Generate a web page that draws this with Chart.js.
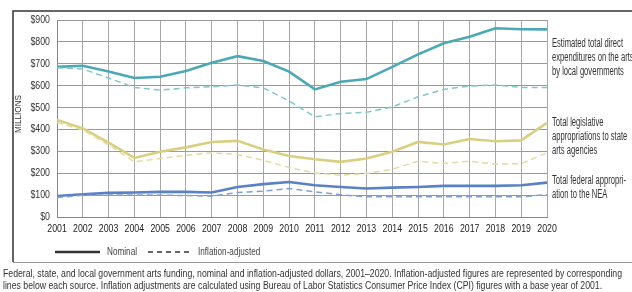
<!DOCTYPE html>
<html>
<head>
<meta charset="utf-8">
<script src="https://cdn.jsdelivr.net/npm/chart.js"></script>
<style>
    html, body { margin: 0; padding: 0; background: #fff; }
    #wrap { position: relative; width: 632px; height: 292px; }
</style>
</head>
<body>
<div id="wrap"><canvas id="artsChart" width="632" height="292"></canvas></div>
<script>
// 資料
const years = ['2001','2002','2003','2004','2005','2006','2007','2008','2009','2010',
               '2011','2012','2013','2014','2015','2016','2017','2018','2019','2020'];

const localNominal  = [686, 691, 665, 635, 641, 667, 705, 735, 713, 664, 583, 618, 630, 686, 743, 794, 824, 862, 858, 857];
const localAdjusted = [682, 676, 635, 592, 580, 590, 595, 603, 590, 530, 458, 473, 478, 503, 549, 583, 598, 603, 592, 592];

const stateNominal  = [443, 405, 340, 270, 298, 318, 343, 348, 308, 279, 264, 252, 267, 298, 343, 331, 356, 346, 350, 430];
const stateAdjusted = [432, 397, 330, 252, 267, 282, 293, 286, 259, 226, 201, 191, 199, 218, 255, 244, 255, 241, 244, 293];

const neaNominal    = [96, 104, 110, 112, 115, 115, 112, 137, 150, 160, 145, 137, 130, 134, 137, 142, 142, 142, 145, 157];
const neaAdjusted   = [89, 99, 100, 100, 100, 98, 95, 112, 118, 130, 115, 102, 92, 92, 92, 92, 92, 92, 92, 102];

const yTicks = [0, 100, 200, 300, 400, 500, 600, 700, 800, 900];

const FONT = '"Liberation Sans", "DejaVu Sans", sans-serif';

// 側邊說明文字
const sideNotes = [
    { lines: ['Estimated total direct', 'expenditures on the arts', 'by local governments'], y: 44 },
    { lines: ['Total legislative', 'appropriations to state', 'arts agencies'], y: 123 },
    { lines: ['Total federal appropri-', 'ation to the NEA'], y: 181 }
];

const captionLines = [
    'Federal, state, and local government arts funding, nominal and inflation-adjusted dollars, 2001\u20132020. Inflation-adjusted figures are represented by corresponding',
    'lines below each source. Inflation adjustments are calculated using Bureau of Labor Statistics Consumer Price Index (CPI) figures with a base year of 2001.'
];

function lineSet(data, color, dashed) {
    return {
        data: data,
        borderColor: color,
        borderWidth: dashed ? 1.5 : 2.6,
        borderDash: dashed ? [6, 4] : [],
        pointRadius: 0,
        tension: 0,
        fill: false
    };
}

// 壓窄文字
function narrowText(ctx, txt, x, y, sx) {
    ctx.save();
    ctx.translate(x, y);
    ctx.scale(sx, 1);
    ctx.fillText(txt, 0, 0);
    ctx.restore();
}

// 外框、刻度文字、圖例、說明文字
const decorPlugin = {
    id: 'decor',
    afterDraw(chart) {
        const ctx = chart.ctx;
        const area = chart.chartArea;
        const xs = chart.scales.x;
        const ys = chart.scales.y;
        ctx.save();

        // 外框
        ctx.strokeStyle = '#333';
        ctx.lineWidth = 1.5;
        ctx.beginPath();
        ctx.moveTo(13, 262);
        ctx.lineTo(13, 11);
        ctx.lineTo(632, 11);
        ctx.stroke();

        ctx.strokeStyle = '#999';
        ctx.lineWidth = 1;
        ctx.beginPath();
        ctx.moveTo(13, 262.5);
        ctx.lineTo(632, 262.5);
        ctx.stroke();

        // X 軸刻度
        ctx.fillStyle = '#222';
        ctx.font = '11.5px ' + FONT;
        ctx.textBaseline = 'middle';
        ctx.textAlign = 'left';
        xs.ticks.forEach((t, i) => {
            const label = xs.getLabelForValue(t.value);
            const w = ctx.measureText(label).width;
            const sx = 19.5 / w;
            narrowText(ctx, label, xs.getPixelForTick(i) - 9.75, area.bottom + 11.5, sx);
        });

        // Y 軸刻度
        ctx.fillStyle = '#333';
        ctx.font = '11px ' + FONT;
        ys.ticks.forEach(t => {
            const label = '$' + t.value;
            const w = ctx.measureText(label).width;
            const sx = 0.8;
            narrowText(ctx, label, 50 - w * sx, ys.getPixelForValue(t.value), sx);
        });

        // MILLIONS
        ctx.fillStyle = '#333';
        ctx.font = '9.5px ' + FONT;
        ctx.textAlign = 'center';
        ctx.translate(18, 114);
        ctx.rotate(-Math.PI / 2);
        narrowText(ctx, 'MILLIONS', 0, 0, 38 / ctx.measureText('MILLIONS').width);
        ctx.setTransform(1, 0, 0, 1, 0, 0);

        // 側邊說明
        ctx.font = '12px ' + FONT;
        ctx.textAlign = 'left';
        ctx.fillStyle = '#333';
        const noteScale = 71 / ctx.measureText('Estimated total direct').width;
        sideNotes.forEach(note => {
            note.lines.forEach((txt, i) => {
                narrowText(ctx, txt, area.right + 5, note.y + i * 14, noteScale);
            });
        });

        // 圖例
        ctx.strokeStyle = '#333';
        ctx.lineWidth = 2.6;
        ctx.beginPath();
        ctx.moveTo(55, 252);
        ctx.lineTo(100, 252);
        ctx.stroke();
        ctx.lineWidth = 1.3;
        ctx.setLineDash([5, 4]);
        ctx.beginPath();
        ctx.moveTo(148, 252);
        ctx.lineTo(193, 252);
        ctx.stroke();
        ctx.setLineDash([]);
        ctx.font = '10.5px ' + FONT;
        ctx.fillStyle = '#444';
        const legScale = 30 / ctx.measureText('Nominal').width;
        narrowText(ctx, 'Nominal', 107, 252, legScale);
        narrowText(ctx, 'Inflation-adjusted', 198, 252, legScale);

        // 圖說
        ctx.font = '10px ' + FONT;
        ctx.fillStyle = '#333';
        const capScale = 619 / ctx.measureText(captionLines[0]).width;
        captionLines.forEach((txt, i) => {
            narrowText(ctx, txt, 3, 274 + i * 12, capScale);
        });

        ctx.restore();
    }
};

const ctx = document.getElementById('artsChart').getContext('2d');
const artsChart = new Chart(ctx, {
    type: 'line',
    data: {
        labels: years,
        datasets: [
            lineSet(localAdjusted, '#7fc6cf', true),
            lineSet(stateAdjusted, '#e2dc9e', true),
            lineSet(neaAdjusted, '#7e9fd8', true),
            lineSet(localNominal, '#4aa9b4', false),
            lineSet(stateNominal, '#d9cf80', false),
            lineSet(neaNominal, '#5a80c6', false)
        ]
    },
    options: {
        responsive: false,
        animation: false,
        layout: {
            padding: { left: 0, top: 20, right: 85, bottom: 55 }
        },
        plugins: {
            legend: { display: false },
            tooltip: { enabled: false }
        },
        scales: {
            x: {
                grid: { color: '#a8a8a8', lineWidth: 1, drawTicks: false },
                border: { color: '#888' },
                // 刻度文字由外掛以窄體繪製
                ticks: { display: false, autoSkip: false, maxRotation: 0 },
                afterFit(scale) { scale.height = 20; }
            },
            y: {
                min: 0,
                max: 900,
                afterBuildTicks(scale) { scale.ticks = yTicks.map(v => ({ value: v })); },
                grid: { color: '#9a9a9a', lineWidth: 1, drawTicks: false },
                border: { color: '#888' },
                ticks: { display: false },
                afterFit(scale) { scale.width = 57; }
            }
        }
    },
    plugins: [decorPlugin]
});
</script>
</body>
</html>
